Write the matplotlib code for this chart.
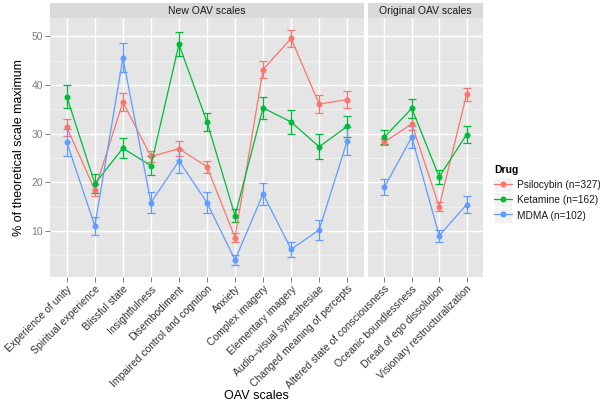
import matplotlib
matplotlib.use("Agg")
import matplotlib.pyplot as plt
from matplotlib.legend_handler import HandlerLine2D
from matplotlib.patches import Rectangle
import numpy as np

# OAV scale names
new_scales = ["Experience of unity", "Spiritual experience", "Blissful state",
              "Insightfulness", "Disembodiment", "Impaired control and cognition",
              "Anxiety", "Complex imagery", "Elementary imagery",
              "Audio\u2013visual synesthesiae", "Changed meaning of percepts"]
orig_scales = ["Altered state of consciousness", "Oceanic boundlessness",
               "Dread of ego dissolution", "Visionary restructuralization"]

drugs = ["Psilocybin (n=327)", "Ketamine (n=162)", "MDMA (n=102)"]
colors = ["#F8766D", "#00BA38", "#619CFF"]

# means (% of theoretical scale maximum) and standard errors
psi_new = [31.3, 18.4, 36.5, 25.3, 26.9, 23.2, 8.6, 43.2, 49.6, 36.1, 37.0]
psi_new_se = [1.7, 1.2, 1.8, 1.1, 1.6, 1.2, 1.0, 1.8, 1.8, 1.9, 1.7]
ket_new = [37.6, 19.7, 27.0, 23.4, 48.4, 32.4, 13.1, 35.3, 32.4, 27.3, 31.5]
ket_new_se = [2.4, 1.9, 2.1, 1.9, 2.5, 1.9, 1.3, 2.3, 2.4, 2.6, 2.1]
mdma_new = [28.2, 11.0, 45.6, 15.8, 24.4, 15.8, 4.0, 17.6, 6.2, 10.2, 28.5]
mdma_new_se = [2.7, 1.9, 3.0, 2.2, 2.4, 2.1, 1.1, 2.3, 1.5, 2.1, 2.8]

psi_orig = [28.3, 32.0, 15.0, 38.1]
psi_orig_se = [0.7, 1.2, 1.0, 1.3]
ket_orig = [29.3, 35.2, 21.1, 29.8]
ket_orig_se = [1.4, 1.9, 1.4, 1.8]
mdma_orig = [19.0, 29.3, 9.0, 15.4]
mdma_orig_se = [1.6, 2.3, 1.2, 1.7]

plt.rcParams['font.family'] = ['Liberation Sans', 'DejaVu Sans']

W, H = 600, 405
fig = plt.figure(figsize=(6, 4.05), dpi=100)

def px_axes(x0, x1, y0, y1):
    return fig.add_axes([x0 / W, 1 - y1 / H, (x1 - x0) / W, (y1 - y0) / H])

panels = [
    (px_axes(50, 364, 18, 277), px_axes(50, 364, 3, 18), "New OAV scales", new_scales,
     [(psi_new, psi_new_se), (ket_new, ket_new_se), (mdma_new, mdma_new_se)]),
    (px_axes(368, 483, 18, 277), px_axes(368, 483, 3, 18), "Original OAV scales", orig_scales,
     [(psi_orig, psi_orig_se), (ket_orig, ket_orig_se), (mdma_orig, mdma_orig_se)]),
]

handles = []
for i, (ax, sax, title, scales, series) in enumerate(panels):
    x = np.arange(len(scales))
    ax.set_facecolor("#E5E5E5")
    for (vals, se), c in zip(series, colors):
        eb = ax.errorbar(x, vals, yerr=se, fmt='-o', color=c, lw=0.9, ms=3.3,
                         capsize=2.6, capthick=0.9, elinewidth=0.9, zorder=3)
        if i == 0:
            handles.append(eb.lines[0])
    ax.set_xlim(-0.6, len(scales) - 0.4)
    ax.set_ylim(0.5, 53.8)
    ax.set_yticks([10, 20, 30, 40, 50])
    ax.set_yticks([5, 15, 25, 35, 45], minor=True)
    ax.set_xticks(x)
    ax.set_xticklabels(scales, rotation=45, ha='right', va='top',
                       rotation_mode='anchor', fontsize=7.5, color='#333333')
    ax.grid(True, which='major', color='white', lw=1.0, zorder=0)
    ax.grid(True, which='minor', axis='y', color='#F2F2F2', lw=0.6, zorder=0)
    ax.set_axisbelow(True)
    for s in ax.spines.values():
        s.set_visible(False)
    ax.tick_params(axis='both', which='major', length=3.5, width=0.7,
                   color='#7F7F7F', pad=1.5, labelsize=7.5, labelcolor='#7F7F7F')
    ax.tick_params(axis='x', labelcolor='#333333')
    ax.tick_params(which='minor', length=0)
    if i == 1:
        ax.tick_params(axis='y', left=False, labelleft=False)

    # facet strip
    sax.set_facecolor("#D9D9D9")
    sax.set_xticks([])
    sax.set_yticks([])
    for s in sax.spines.values():
        s.set_visible(False)
    sax.text(0.5, 0.45, title, ha='center', va='center', fontsize=7.5,
             color='#1A1A1A', transform=sax.transAxes)

ax1 = panels[0][0]
ax1.set_ylabel("% of theoretical scale maximum", fontsize=9)
ax1.yaxis.set_label_coords(-0.08, 0.5)
fig.text(256 / W, 1 - 396 / H, "OAV scales", ha='center', va='center', fontsize=9)


class KeyHandler(HandlerLine2D):
    # grey key background like ggplot
    def create_artists(self, legend, orig_handle, xdescent, ydescent,
                       width, height, fontsize, trans):
        bg = Rectangle((-xdescent, -ydescent - 2), width, height + 4,
                       fc='#F2F2F2', ec='white', lw=0.8, transform=trans)
        arts = super().create_artists(legend, orig_handle, xdescent, ydescent,
                                      width, height, fontsize, trans)
        return [bg] + list(arts)


leg = fig.legend(handles, drugs, loc='upper left',
                 bbox_to_anchor=(487 / W, 1 - 158 / H), frameon=False,
                 fontsize=7.3, title="Drug", title_fontproperties={'weight': 'bold', 'size': 7.5},
                 handler_map={h: KeyHandler(numpoints=1) for h in handles},
                 handlelength=1.8, handleheight=1.2, labelspacing=0.45,
                 handletextpad=0.5, borderpad=0.2)
leg._legend_box.align = "left"
for t in leg.get_texts():
    t.set_color('#1A1A1A')

fig.savefig("out.png", dpi=100)
